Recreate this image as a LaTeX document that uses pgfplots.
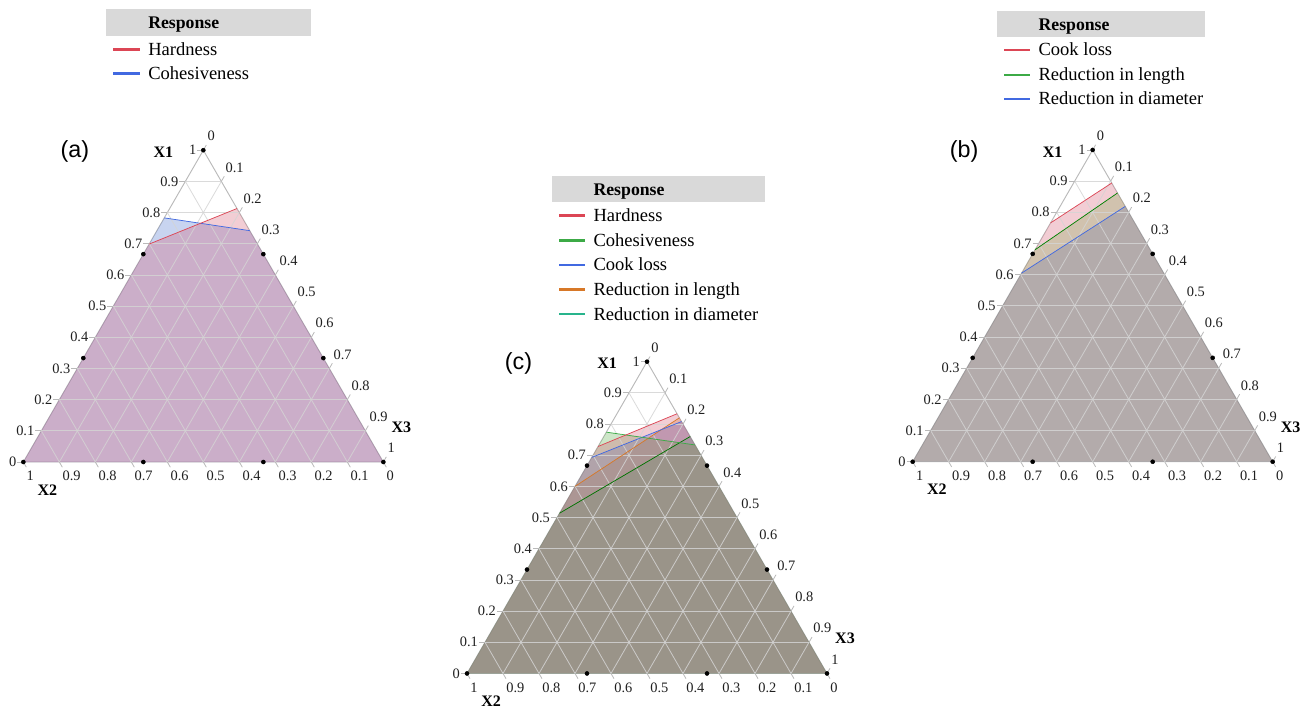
\documentclass[border=0pt]{standalone}
\usepackage{fontspec}
\setmainfont{Liberation Serif}
\newfontfamily\serifnt{Liberation Serif}
\newfontfamily\sansfnt{Liberation Sans}
\usepackage{pgfplots}
\pgfplotsset{compat=1.18}
\usepackage{pgfplotstable}

\definecolor{fRed}{RGB}{212,88,112}
\definecolor{fBlue}{RGB}{72,112,205}
\definecolor{fGreenB}{RGB}{102,208,78}
\definecolor{fBlueB}{RGB}{51,98,235}
\definecolor{fGreenC}{RGB}{88,172,72}
\definecolor{fOrange}{RGB}{215,125,45}
\definecolor{fTeal}{RGB}{10,230,100}
\definecolor{lRed}{RGB}{220,70,85}
\definecolor{lGreen}{RGB}{60,170,70}
\definecolor{lBlue}{RGB}{65,105,225}
\definecolor{lOrange}{RGB}{215,120,40}
\definecolor{lTeal}{RGB}{40,180,140}
\definecolor{gridc}{RGB}{212,212,212}
\definecolor{borderc}{RGB}{185,185,185}
\definecolor{hdr}{RGB}{217,217,217}

% ternary data: X1 (top vertex) and X3 (bottom right vertex); X2 = 1 - X1 - X3
% rows 0-1: boundary line (left edge -> right edge); rows 2-3: bottom corners
\pgfplotstableread[row sep=\\]{X1 X3\\0.699 0\\0.813 0.187\\0 1\\0 0\\}\tAHard
\pgfplotstableread[row sep=\\]{X1 X3\\0.783 0\\0.742 0.258\\0 1\\0 0\\}\tACoh
\pgfplotstableread[row sep=\\]{X1 X3\\0.766 0\\0.894 0.106\\0 1\\0 0\\}\tBCook
\pgfplotstableread[row sep=\\]{X1 X3\\0.680 0\\0.862 0.138\\0 1\\0 0\\}\tBLen
\pgfplotstableread[row sep=\\]{X1 X3\\0.605 0\\0.819 0.181\\0 1\\0 0\\}\tBDia
\pgfplotstableread[row sep=\\]{X1 X3\\0.728 0\\0.833 0.167\\0 1\\0 0\\}\tCHard
\pgfplotstableread[row sep=\\]{X1 X3\\0.774 0\\0.733 0.267\\0 1\\0 0\\}\tCCoh
\pgfplotstableread[row sep=\\]{X1 X3\\0.693 0\\0.808 0.192\\0 1\\0 0\\}\tCCook
\pgfplotstableread[row sep=\\]{X1 X3\\0.600 0\\0.820 0.180\\0 1\\0 0\\}\tCLen
\pgfplotstableread[row sep=\\]{X1 X3\\0.514 0\\0.760 0.240\\0 1\\0 0\\}\tCDia
\pgfplotstableread[row sep=\\]{X1 X3\\1 0\\0.6667 0\\0.3333 0\\0 0\\0 0.3333\\0 0.6667\\0 1\\0.3333 0.6667\\0.6667 0.3333\\}\tDots

\pgfplotsset{
  table/tern/.style={x expr={\thisrow{X3}+0.5*\thisrow{X1}}, y expr={0.8660254*\thisrow{X1}}},
  ternax/.style={anchor=south west, scale only axis, x=270pt, y=270pt,
    xmin=0, xmax=1, ymin=0, ymax=0.8660254, hide axis, clip=false},
  regfill/.style={fill=#1, fill opacity=0.3, draw=none},
  regline/.style={#1, line width=0.55pt, skip coords between index={2}{4}},
}
\tikzset{
  gridline/.style={draw=gridc, draw opacity=0.85, line width=0.6pt},
  tickline/.style={draw=borderc, line width=0.6pt},
  ticklab/.style={font=\serifnt\fontsize{10.8}{12}\selectfont, inner sep=0.5pt, text=black!88},
  axtitle/.style={font=\serifnt\bfseries\fontsize{12}{14}\selectfont, inner sep=0pt},
  panlab/.style={font=\sansfnt\fontsize{17.5}{20}\selectfont, inner sep=0pt},
  legtxt/.style={font=\serifnt\fontsize{13.9}{16}\selectfont, inner sep=0pt, anchor=base west},
  leghdr/.style={font=\serifnt\bfseries\fontsize{13.3}{16}\selectfont, inner sep=0pt, anchor=base west},
  legkey/.style={line width=2pt},
}

\newcommand{\TernBorder}{%
  \draw[borderc, line width=0.7pt] (axis cs:0,0) -- (axis cs:1,0) -- (axis cs:0.5,0.8660254) -- cycle;}

\newcommand{\TernGrid}{%
  \pgfplotsinvokeforeach{0.1,0.2,0.3,0.4,0.5,0.6,0.7,0.8,0.9}{%
    \draw[gridline] (axis cs:{0.5*##1},{0.8660254*##1}) -- (axis cs:{1-0.5*##1},{0.8660254*##1});
    \draw[gridline] (axis cs:{0.5-0.5*##1},{0.8660254*(1-##1)}) -- (axis cs:{1-##1},0);
    \draw[gridline] (axis cs:##1,0) -- (axis cs:{0.5+0.5*##1},{0.8660254*(1-##1)});
  }}

\newcommand{\TernLabels}[1]{%
  \pgfplotsinvokeforeach{0,0.1,0.2,0.3,0.4,0.5,0.6,0.7,0.8,0.9,1}{%
    \draw[tickline] (axis cs:{0.5*##1},{0.8660254*##1}) -- ++(-4.5pt,0pt);
    \draw[tickline] (axis cs:{1-##1},0) -- ++(2.25pt,-3.9pt);
    \draw[tickline] (axis cs:{0.5+0.5*##1},{0.8660254*(1-##1)}) -- ++(2.25pt,3.9pt);
    \node[ticklab, anchor=east, xshift=-4.6pt] at (axis cs:{0.5*##1},{0.8660254*##1}) {##1};
    \node[ticklab, anchor=west, xshift=1.8pt, yshift=-10.5pt] at (axis cs:{1-##1},0) {##1};
    \node[ticklab, anchor=west, xshift=2.5pt, yshift=10.5pt] at (axis cs:{0.5+0.5*##1},{0.8660254*(1-##1)}) {##1};
  }%
  \addplot[only marks, mark=*, mark size=1.5pt, black] table[tern] {\tDots};
  \node[axtitle] at (axis cs:0.389,0.861) {X1};
  \node[axtitle] at (axis cs:0.067,-0.077) {X2};
  \node[axtitle] at (axis cs:1.050,0.097) {X3};
  \node[panlab] at (axis cs:0.143,0.862) {#1};
}

\begin{document}
\begin{tikzpicture}
\useasboundingbox (0,0) rectangle (978pt,531pt);

% ---------------- (a)
\begin{axis}[ternax, at={(17.5pt,184.5pt)}]
  \TernBorder
  \addplot[regfill=fBlue] table[tern] {\tACoh};
  \addplot[regfill=fRed] table[tern] {\tAHard};
  \TernGrid
  \addplot[regline=lBlue] table[tern] {\tACoh};
  \addplot[regline=lRed] table[tern] {\tAHard};
  \TernLabels{(a)}
\end{axis}

% ---------------- (c)
\begin{axis}[ternax, at={(350.25pt,25.9pt)}]
  \TernBorder
  \addplot[regfill=fTeal] table[tern] {\tCDia};
  \addplot[regfill=fOrange] table[tern] {\tCLen};
  \addplot[regfill=fBlueB] table[tern] {\tCCook};
  \addplot[regfill=fGreenC] table[tern] {\tCCoh};
  \addplot[regfill=fRed] table[tern] {\tCHard};
  \TernGrid
  \addplot[regline={green!45!black}] table[tern] {\tCDia};
  \addplot[regline=lOrange] table[tern] {\tCLen};
  \addplot[regline=lBlue] table[tern] {\tCCook};
  \addplot[regline=lGreen] table[tern] {\tCCoh};
  \addplot[regline=lRed] table[tern] {\tCHard};
  \TernLabels{(c)}
\end{axis}

% ---------------- (b)
\begin{axis}[ternax, at={(684.5pt,184.7pt)}]
  \TernBorder
  \addplot[regfill=fBlueB] table[tern] {\tBDia};
  \addplot[regfill=fGreenB] table[tern] {\tBLen};
  \addplot[regfill=fRed] table[tern] {\tBCook};
  \TernGrid
  \addplot[regline=lBlue] table[tern] {\tBDia};
  \addplot[regline={green!50!black}] table[tern] {\tBLen};
  \addplot[regline=lRed] table[tern] {\tBCook};
  \TernLabels{(b)}
\end{axis}

% ---------------- legends (pixel coordinates, origin top-left)
\begin{scope}[x=0.75pt, y=-0.75pt, shift={(0pt,531pt)}]
  % (a)
  \fill[hdr] (106,9) rectangle (311,36);
  \node[leghdr] at (148,29) {Response};
  \draw[legkey, lRed] (113,49.3) -- (140,49.3);
  \node[legtxt] at (148,55.3) {Hardness};
  \draw[legkey, lBlue] (113,73.3) -- (140,73.3);
  \node[legtxt] at (148,79.3) {Cohesiveness};
  % (c)
  \fill[hdr] (551.7,176) rectangle (765,202);
  \node[leghdr] at (593.3,195.5) {Response};
  \draw[legkey, lRed] (559,215.7) -- (585,215.7);
  \node[legtxt] at (593.3,221.7) {Hardness};
  \draw[legkey, lGreen] (559,240.3) -- (585,240.3);
  \node[legtxt] at (593.3,246.3) {Cohesiveness};
  \draw[legkey, lBlue] (559,264.9) -- (585,264.9);
  \node[legtxt] at (593.3,270.9) {Cook loss};
  \draw[legkey, lOrange] (559,289.5) -- (585,289.5);
  \node[legtxt] at (593.3,295.5) {Reduction in length};
  \draw[legkey, lTeal] (559,314.1) -- (585,314.1);
  \node[legtxt] at (593.3,320.1) {Reduction in diameter};
  % (b)
  \fill[hdr] (997.3,11) rectangle (1205,36.7);
  \node[leghdr] at (1038.3,30.5) {Response};
  \draw[legkey, lRed] (1004,50) -- (1030,50);
  \node[legtxt] at (1038.3,56) {Cook loss};
  \draw[legkey, lGreen] (1004,75) -- (1030,75);
  \node[legtxt] at (1038.3,81) {Reduction in length};
  \draw[legkey, lBlue] (1004,99) -- (1030,99);
  \node[legtxt] at (1038.3,105) {Reduction in diameter};
\end{scope}
\end{tikzpicture}
\end{document}
